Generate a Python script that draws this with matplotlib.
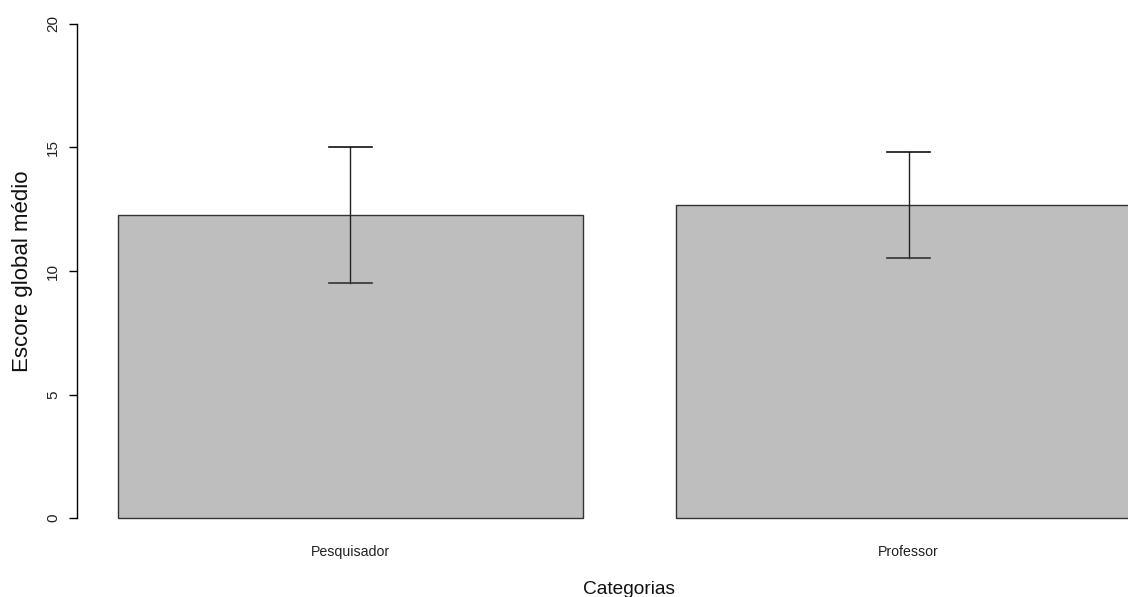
import matplotlib
matplotlib.use("Agg")
import matplotlib.pyplot as plt

categories = ["Pesquisador", "Professor"]
means = [12.27, 12.68]
err_upper = [15.01, 14.82]
err_lower = [9.51, 10.54]
yticks = [0, 5, 10, 15, 20]

plt.rcParams['font.family'] = ['Liberation Sans', 'DejaVu Sans']

W, H = 1128, 597
fig = plt.figure(figsize=(W / 100, H / 100), dpi=100)
# plot region in pixels (R barplot region extends beyond right edge)
left_px, right_px, top_px, bottom_px = 77, 1182, 4, 538
ax = fig.add_axes([left_px / W, 1 - bottom_px / H,
                   (right_px - left_px) / W, (bottom_px - top_px) / H])

centers = [0.7, 1.9]
ax.bar(centers, means, width=1.0, color="#BEBEBE", edgecolor="#333333", linewidth=1.0)
for c, lo, hi in zip(centers, err_lower, err_upper):
    ax.plot([c, c], [lo, hi], color="#222222", lw=1.0)
    ax.plot([c - 0.047, c + 0.047], [hi, hi], color="#111111", lw=1.2)
    ax.plot([c - 0.047, c + 0.047], [lo, lo], color="#333333", lw=1.2)

ax.set_xlim(0.112, 2.488)
ax.set_ylim(-0.8, 20.8)
for s in ["top", "right", "bottom"]:
    ax.spines[s].set_visible(False)
ax.spines["left"].set_bounds(0, 20)
ax.spines["left"].set_linewidth(1.0)

ax.set_yticks(yticks)
ax.set_yticklabels([str(v) for v in yticks], rotation=90, va="center", fontsize=11, color="#222222")
ax.tick_params(axis="y", length=6, width=1.0, pad=6)

ax.set_xticks(centers)
ax.set_xticklabels(categories, fontsize=10.2, color="#222222")
ax.tick_params(axis="x", length=0, pad=5)

ax.set_xlabel("Categorias", fontsize=13.8, color="#111111")
ax.xaxis.set_label_coords(0.5, (bottom_px - 589) / (bottom_px - top_px))
ax.xaxis.label.set_va("center")
ax.set_ylabel("Escore global médio", fontsize=16, color="#111111")
ax.yaxis.set_label_coords((23 - left_px) / (right_px - left_px), 0.5)
ax.yaxis.label.set_va("center")

fig.savefig("out.png", dpi=100)
